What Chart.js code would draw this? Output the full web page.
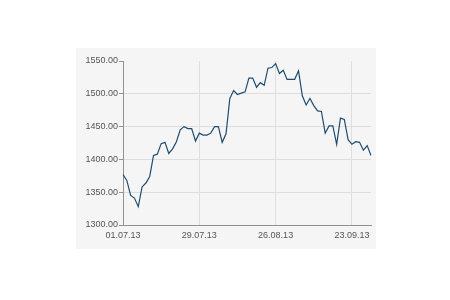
<!DOCTYPE html>
<html>
<head>
<meta charset="utf-8">
<script src="https://cdn.jsdelivr.net/npm/chart.js@4"></script>
<style>
    html, body { margin: 0; padding: 0; background: #ffffff; }
    body { width: 450px; height: 300px; position: relative; overflow: hidden; }
    #panel { position: absolute; left: 76px; top: 48px; width: 300px; height: 201px; background: #f5f5f5; }
    #panel canvas { display: block; }
</style>
</head>
<body>
<div id="panel"><canvas id="priceChart" width="300" height="201"></canvas></div>
<script>
// trading days, 01.07.13 - 30.09.13
const dates = [
    '01.07.13', '02.07.13', '03.07.13', '04.07.13', '05.07.13',
    '08.07.13', '09.07.13', '10.07.13', '11.07.13', '12.07.13',
    '15.07.13', '16.07.13', '17.07.13', '18.07.13', '19.07.13',
    '22.07.13', '23.07.13', '24.07.13', '25.07.13', '26.07.13',
    '29.07.13', '30.07.13', '31.07.13', '01.08.13', '02.08.13',
    '05.08.13', '06.08.13', '07.08.13', '08.08.13', '09.08.13',
    '12.08.13', '13.08.13', '14.08.13', '15.08.13', '16.08.13',
    '19.08.13', '20.08.13', '21.08.13', '22.08.13', '23.08.13',
    '26.08.13', '27.08.13', '28.08.13', '29.08.13', '30.08.13',
    '02.09.13', '03.09.13', '04.09.13', '05.09.13', '06.09.13',
    '09.09.13', '10.09.13', '11.09.13', '12.09.13', '13.09.13',
    '16.09.13', '17.09.13', '18.09.13', '19.09.13', '20.09.13',
    '23.09.13', '24.09.13', '25.09.13', '26.09.13', '27.09.13',
    '30.09.13',
];

const prices = [
    1377, 1368, 1345, 1341, 1328,
    1358, 1364, 1374, 1406, 1408,
    1424, 1426, 1409, 1416, 1427,
    1445, 1450, 1447, 1447, 1428,
    1440, 1437, 1437, 1440, 1450,
    1450, 1426, 1439, 1493, 1505,
    1499, 1501, 1503, 1524, 1524,
    1510, 1517, 1513, 1539, 1540,
    1546, 1531, 1536, 1522, 1522,
    1522, 1535, 1497, 1483, 1493,
    1482, 1474, 1473, 1440, 1451,
    1451, 1423, 1463, 1461, 1430,
    1423, 1427, 1426, 1414, 1421,
    1406,
];

const tickDates = ['01.07.13', '29.07.13', '26.08.13', '23.09.13'];
const yMin = 1300;
const yMax = 1550;
const yStep = 50;

const axisColor = '#929292';
const gridColor = '#dedede';
const textColor = '#555555';
const tickFont = { family: "'Liberation Sans', Arial, sans-serif", size: 9 };

function initPriceChart() {
    const canvas = document.getElementById('priceChart');

    new Chart(canvas, {
        type: 'line',
        data: {
            labels: dates,
            datasets: [{
                data: prices,
                borderColor: '#1e4d6d',
                borderWidth: 1.2,
                pointRadius: 0,
                tension: 0,
                fill: false,
            }],
        },
        options: {
            responsive: false,
            animation: false,
            layout: {
                padding: { top: 13, right: 3, left: 0, bottom: 0 },
            },
            plugins: {
                legend: { display: false },
                tooltip: { enabled: false },
            },
            scales: {
                x: {
                    type: 'category',
                    offset: false,
                    border: { color: axisColor, width: 1 },
                    grid: {
                        drawTicks: false,
                        color: (ctx) => (tickDates.includes(dates[ctx.index]) ? gridColor : 'rgba(0,0,0,0)'),
                    },
                    ticks: {
                        autoSkip: false,
                        maxRotation: 0,
                        padding: 5,
                        color: textColor,
                        font: tickFont,
                        callback: (value, index) => (tickDates.includes(dates[index]) ? dates[index] : ''),
                    },
                    afterFit: (scale) => { scale.height = 24; },
                },
                y: {
                    min: yMin,
                    max: yMax,
                    border: { color: axisColor, width: 1 },
                    grid: {
                        tickLength: 4,
                        tickColor: axisColor,
                        color: (ctx) => (ctx.tick && ctx.tick.value === yMax ? 'rgba(0,0,0,0)' : gridColor),
                    },
                    ticks: {
                        stepSize: yStep,
                        padding: 1,
                        color: textColor,
                        font: tickFont,
                        callback: (value) => Number(value).toFixed(2),
                    },
                    afterFit: (scale) => { scale.width = 47; },
                },
            },
        },
    });
}

if (document.readyState === 'loading') {
    document.addEventListener('DOMContentLoaded', initPriceChart);
} else {
    initPriceChart();
}
</script>
</body>
</html>
